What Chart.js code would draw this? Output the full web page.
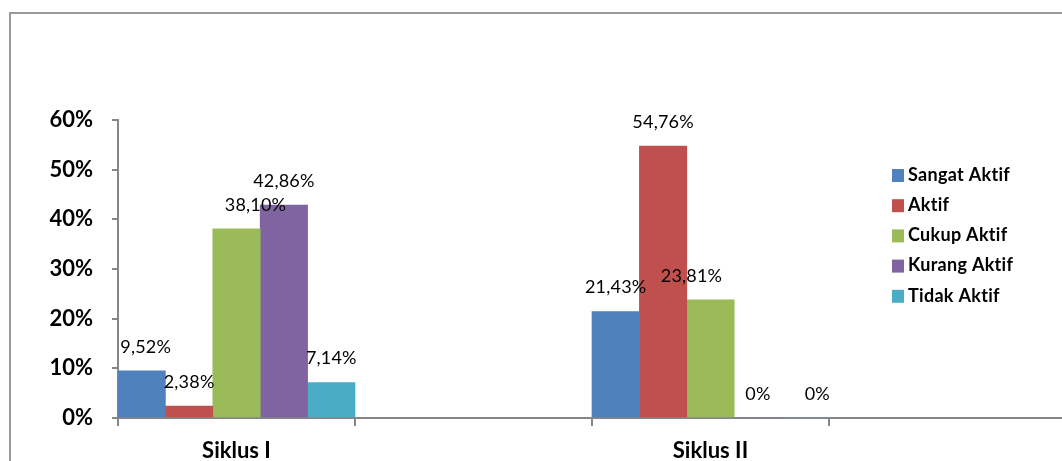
<!DOCTYPE html>
<html>
<head>
<meta charset="utf-8">
<title>Keaktifan Siswa</title>
<script src="https://cdn.jsdelivr.net/npm/chart.js@4.4.1/dist/chart.umd.min.js"></script>
<style>
  html, body { margin: 0; padding: 0; background: #fff; overflow: hidden; }
  #wrap { width: 1080px; height: 461px; }
</style>
</head>
<body>
<div id="wrap"><canvas id="chart" width="1080" height="461"></canvas></div>
<script>
// categories (the empty ones keep the gaps after each cycle)
const siklus = ["Siklus I", "", "Siklus II", ""];

// percentages per category
const sangatAktif = [9.52, null, 21.43, null];
const aktif       = [2.38, null, 54.76, null];
const cukupAktif  = [38.10, null, 23.81, null];
const kurangAktif = [42.86, null, 0, null];
const tidakAktif  = [7.14, null, 0, null];

const yTicks = [0, 10, 20, 30, 40, 50, 60];

const FONT = "Lato, 'Open Sans', sans-serif";

// outer chart frame
const framePlugin = {
    id: "frame",
    beforeDraw(chart) {
        const ctx = chart.ctx;
        ctx.save();
        ctx.strokeStyle = "#9a9a9a";
        ctx.lineWidth = 2;
        ctx.strokeRect(10, 13, chart.width + 40, chart.height + 40);
        ctx.restore();
    }
};

// value labels above each bar
const valueLabels = {
    id: "valueLabels",
    afterDatasetsDraw(chart, args, opts) {
        const ctx = chart.ctx;
        ctx.save();
        ctx.font = "18px " + FONT;
        ctx.letterSpacing = "0.2px";
        ctx.fillStyle = "#000";
        ctx.textAlign = "center";
        ctx.textBaseline = "middle";
        chart.data.datasets.forEach((ds, di) => {
            const meta = chart.getDatasetMeta(di);
            meta.data.forEach((bar, i) => {
                const v = ds.data[i];
                if (v === null || v === undefined) return;
                const txt = v === 0 ? "0%" : v.toFixed(2).replace(".", ",") + "%";
                const shift = (opts.shift[di + "-" + i]) || 0;
                ctx.fillText(txt, bar.x + shift, bar.y - 24);
            });
        });
        ctx.restore();
    }
};

// legend on the right side
const sideLegend = {
    id: "sideLegend",
    afterDraw(chart) {
        const ctx = chart.ctx;
        ctx.save();
        ctx.font = "bold 18px " + FONT;
        ctx.letterSpacing = "0.3px";
        ctx.textBaseline = "middle";
        ctx.textAlign = "left";
        chart.data.datasets.forEach((ds, i) => {
            const y = 175 + i * 30.2;
            ctx.fillStyle = ds.backgroundColor;
            ctx.fillRect(892, y - 6, 12, 13);
            ctx.fillStyle = "#000";
            ctx.fillText(ds.label, 908, y);
        });
        ctx.restore();
    }
};

new Chart(document.getElementById("chart"), {
    type: "bar",
    data: {
        labels: siklus,
        datasets: [
            { label: "Sangat Aktif", data: sangatAktif, backgroundColor: "#4F81BD" },
            { label: "Aktif", data: aktif, backgroundColor: "#C0504D" },
            { label: "Cukup Aktif", data: cukupAktif, backgroundColor: "#9BBB59" },
            { label: "Kurang Aktif", data: kurangAktif, backgroundColor: "#8064A2" },
            { label: "Tidak Aktif", data: tidakAktif, backgroundColor: "#4BACC6" }
        ]
    },
    options: {
        responsive: false,
        animation: false,
        layout: { padding: { top: 120, right: 14, left: 0, bottom: 0 } },
        datasets: {
            bar: { categoryPercentage: 1, barPercentage: 1, borderWidth: 0 }
        },
        plugins: {
            legend: { display: false },
            tooltip: { enabled: false },
            valueLabels: { shift: { "0-0": 4, "2-0": 19, "2-2": -19, "4-2": 12 } }
        },
        scales: {
            x: {
                grid: {
                    offset: true,
                    drawOnChartArea: false,
                    drawTicks: true,
                    tickLength: 8,
                    color: "#868686",
                    lineWidth: 2
                },
                border: { color: "#868686", width: 2 },
                ticks: {
                    color: "#000",
                    font: { family: FONT, size: 22, weight: "bold" },
                    padding: 12,
                    maxRotation: 0,
                    autoSkip: false
                },
                afterFit(scale) { scale.height = 43; }
            },
            y: {
                min: 0,
                max: 60,
                afterBuildTicks(scale) {
                    scale.ticks = yTicks.map(v => ({ value: v }));
                },
                grid: {
                    drawOnChartArea: false,
                    drawTicks: true,
                    tickLength: 6,
                    color: "#868686",
                    lineWidth: 2
                },
                border: { color: "#868686", width: 2 },
                ticks: {
                    color: "#000",
                    font: { family: FONT, size: 22, weight: "bold" },
                    padding: 19,
                    callback: v => v + "%"
                },
                afterFit(scale) { scale.width = 118; }
            }
        }
    },
    plugins: [framePlugin, valueLabels, sideLegend]
});
</script>
</body>
</html>
